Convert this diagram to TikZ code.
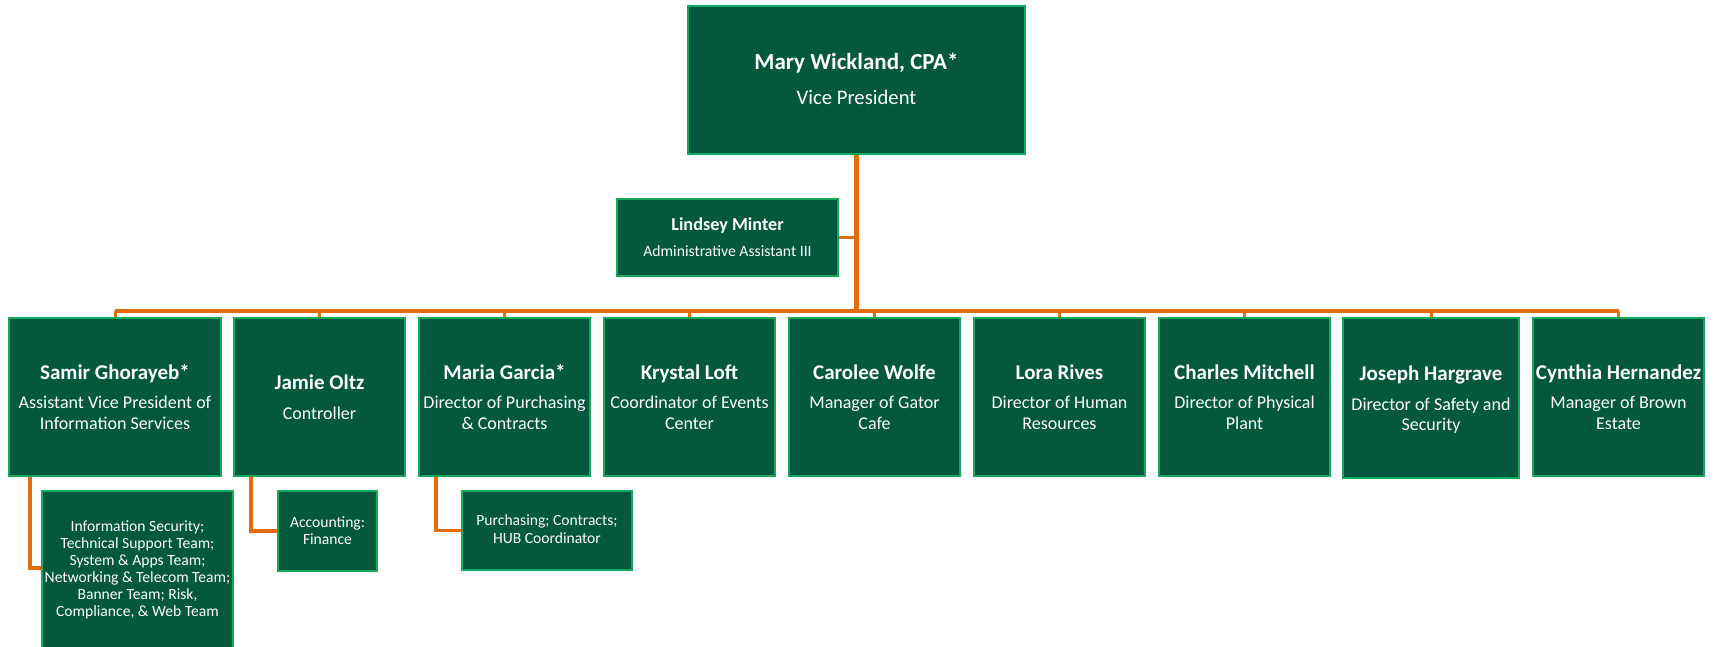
\documentclass[tikz,border=0pt]{standalone}
\usepackage{fontspec}
\setmainfont{Carlito}
\definecolor{gfill}{RGB}{3,88,62}
\definecolor{gborder}{RGB}{22,168,92}
\definecolor{conn}{RGB}{228,108,10}
\tikzset{
  box/.style={draw=gborder, fill=gfill, line width=2.2pt, inner sep=0pt},
  nm/.style={text=white, anchor=base, inner sep=0pt, font=\bfseries\fontsize{21}{25}\selectfont},
  tt/.style={text=white, anchor=base, inner sep=0pt, font=\fontsize{18}{21}\selectfont},
  bignm/.style={text=white, anchor=base, inner sep=0pt, font=\bfseries\fontsize{23}{27}\selectfont},
  bigtt/.style={text=white, anchor=base, inner sep=0pt, font=\fontsize{20.7}{24}\selectfont},
  smnm/.style={text=white, anchor=base, inner sep=0pt, font=\bfseries\fontsize{18.2}{21}\selectfont},
  smtt/.style={text=white, anchor=base, inner sep=0pt, font=\fontsize{15.7}{19}\selectfont},
  subtt/.style={text=white, anchor=base, inner sep=0pt, font=\fontsize{15.6}{18}\selectfont},
  wire/.style={draw=conn, line width=3pt, line join=miter},
}
\begin{document}
\begin{tikzpicture}[x=1pt,y=-1pt]
\useasboundingbox (0,0) rectangle (1717,646);
% boxes
\node[box, minimum width=337pt, minimum height=148pt] (mary) at (856.5,80) {};
\node[box, minimum width=221pt, minimum height=77pt] (lindsey) at (727.5,237.5) {};
\node[box, minimum width=212pt, minimum height=158pt] (samir) at (115,397) {};
\node[box, minimum width=171pt, minimum height=158pt] (jamie) at (319.5,397) {};
\node[box, minimum width=171pt, minimum height=158pt] (maria) at (504.5,397) {};
\node[box, minimum width=171pt, minimum height=158pt] (krystal) at (689.5,397) {};
\node[box, minimum width=171pt, minimum height=158pt] (carolee) at (874.5,397) {};
\node[box, minimum width=171pt, minimum height=158pt] (lora) at (1059.5,397) {};
\node[box, minimum width=171pt, minimum height=158pt] (charles) at (1244.5,397) {};
\node[box, minimum width=176pt, minimum height=160pt] (joseph) at (1431,398) {};
\node[box, minimum width=171pt, minimum height=158pt] (cynthia) at (1618.5,397) {};
\node[box, minimum width=191pt, minimum height=159pt] (info) at (137.5,570.5) {};
\node[box, minimum width=99pt, minimum height=80pt] (acc) at (327.5,531) {};
\node[box, minimum width=170pt, minimum height=79pt] (purch) at (547,530.5) {};
% connectors
\coordinate (bus) at (856.5,311);
\draw[wire, line width=4.5pt] (mary.south) -- (mary.south |- bus);
\draw[wire, line width=3.5pt] (lindsey.east) -- (lindsey.east -| mary.south);
\draw[wire, line width=4pt] (samir.north |- bus) -- (cynthia.north |- bus);
\foreach \n in {samir,jamie,maria,krystal,carolee,lora,charles,joseph,cynthia}
  \draw[wire] (\n.north |- bus) -- (\n.north);
\draw[wire, line width=3.5pt] ([xshift=22pt]samir.south west) |- ([yshift=2.5pt]info.west);
\draw[wire, line width=3.5pt] ([xshift=18pt]jamie.south west) |- (acc.west);
\draw[wire, line width=3.5pt] ([xshift=18pt]maria.south west) |- (purch.west);
% texts
\node[bignm] (maryN) at (856.5,69.3) {Mary Wickland, CPA*};
\node[bigtt] (maryT) at (856.5,104) {Vice President};
\node[smnm] (lindseyN) at (727.5,230) {Lindsey Minter};
\node[smtt] (lindseyT) at (727.5,256) {Administrative Assistant III};
\node[nm] (samirN) at (115,379.3) {Samir Ghorayeb*};
\node[tt] (samirT1) at (115,408.3) {Assistant Vice President of};
\node[tt] (samirT2) at (115,429.3) {Information Services};
\node[nm] (jamieN) at (319.5,389.3) {Jamie Oltz};
\node[tt] (jamieT) at (319.5,419) {Controller};
\node[nm] (mariaN) at (504.5,379.3) {Maria Garcia*};
\node[tt] (mariaT1) at (504.5,408.3) {Director of Purchasing};
\node[tt] (mariaT2) at (504.5,429.3) {\& Contracts};
\node[nm] (krystalN) at (689.5,379.3) {Krystal Loft};
\node[tt] (krystalT1) at (689.5,408.3) {Coordinator of Events};
\node[tt] (krystalT2) at (689.5,429.3) {Center};
\node[nm] (caroleeN) at (874.5,379.3) {Carolee Wolfe};
\node[tt] (caroleeT1) at (874.5,408.3) {Manager of Gator};
\node[tt] (caroleeT2) at (874.5,429.3) {Cafe};
\node[nm] (loraN) at (1059.5,379.3) {Lora Rives};
\node[tt] (loraT1) at (1059.5,408.3) {Director of Human};
\node[tt] (loraT2) at (1059.5,429.3) {Resources};
\node[nm] (charlesN) at (1244.5,379.3) {Charles Mitchell};
\node[tt] (charlesT1) at (1244.5,408.3) {Director of Physical};
\node[tt] (charlesT2) at (1244.5,429.3) {Plant};
\node[nm] (josephN) at (1431,380.5) {Joseph Hargrave};
\node[tt] (josephT1) at (1431,410) {Director of Safety and};
\node[tt] (josephT2) at (1431,430.5) {Security};
\node[nm] (cynthiaN) at (1618.5,379.3) {Cynthia Hernandez};
\node[tt] (cynthiaT1) at (1618.5,408.3) {Manager of Brown};
\node[tt] (cynthiaT2) at (1618.5,429.3) {Estate};
\node[subtt] (info1) at (137.5,531) {Information Security;};
\node[subtt] (info2) at (137.5,548) {Technical Support Team;};
\node[subtt] (info3) at (137.5,565) {System \& Apps Team;};
\node[subtt] (info4) at (137.5,582) {Networking \& Telecom Team;};
\node[subtt] (info5) at (137.5,599) {Banner Team; Risk,};
\node[subtt] (info6) at (137.5,616) {Compliance, \& Web Team};
\node[subtt] (acc1) at (327.5,527.3) {Accounting:};
\node[subtt] (acc2) at (327.5,544.3) {Finance};
\node[subtt] (purch1) at (547,525.7) {Purchasing; Contracts;};
\node[subtt] (purch2) at (547,543.3) {HUB Coordinator};
\end{tikzpicture}
\end{document}
